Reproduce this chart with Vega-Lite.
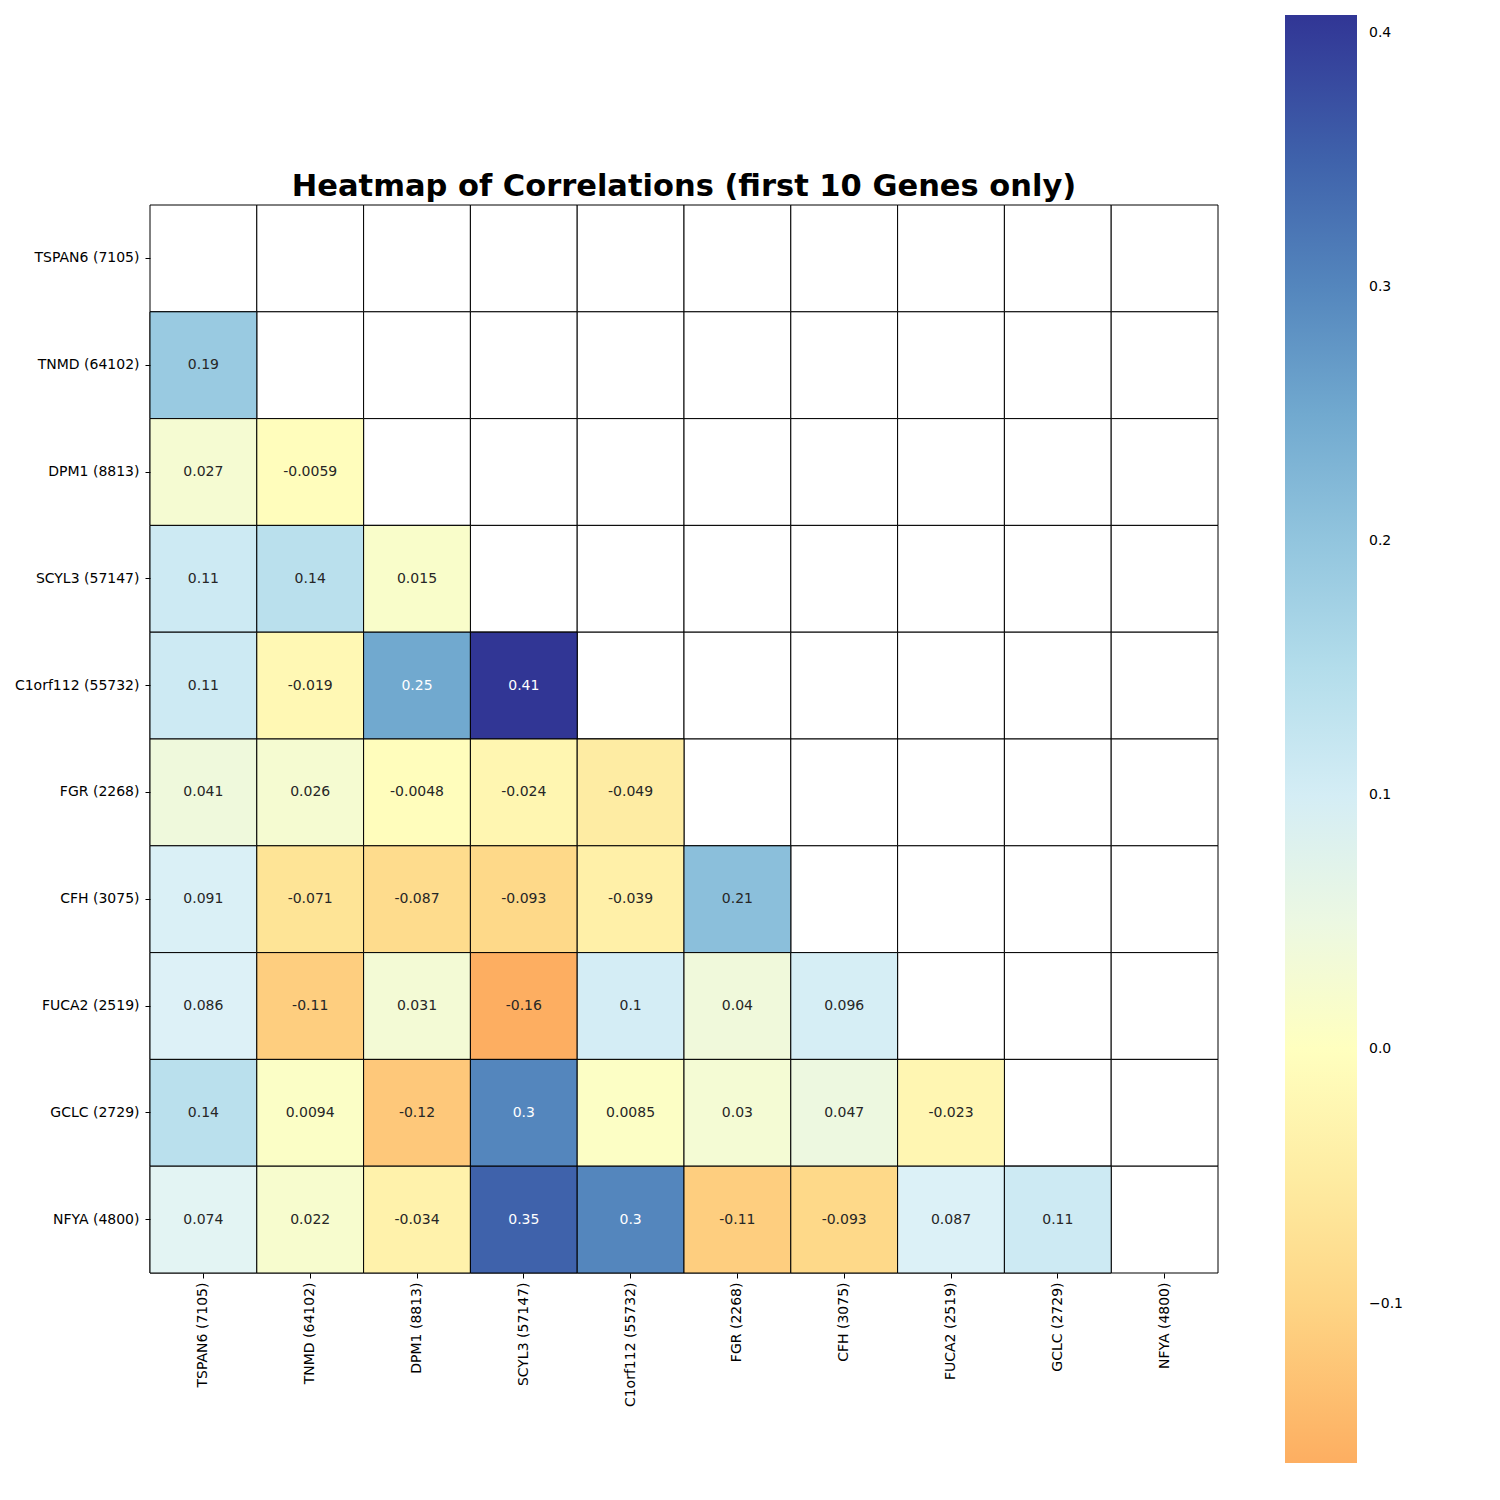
{
  "$schema": "https://vega.github.io/schema/vega-lite/v6.json",
  "autosize": {"type": "none"},
  "padding": {"left": 150, "top": 205, "right": 282, "bottom": 227},
  "width": 1068,
  "height": 1068,
  "background": "white",
  "title": {
    "text": "Heatmap of Correlations (first 10 Genes only)",
    "fontSize": 30.5,
    "fontWeight": "bold",
    "font": "DejaVu Sans",
    "color": "black",
    "anchor": "middle",
    "offset": 6,
    "dy": 193
  },
  "data": {
    "values": [
      {"row": "TSPAN6 (7105)", "col": "TSPAN6 (7105)", "r": null},
      {"row": "TSPAN6 (7105)", "col": "TNMD (64102)", "r": null},
      {"row": "TSPAN6 (7105)", "col": "DPM1 (8813)", "r": null},
      {"row": "TSPAN6 (7105)", "col": "SCYL3 (57147)", "r": null},
      {"row": "TSPAN6 (7105)", "col": "C1orf112 (55732)", "r": null},
      {"row": "TSPAN6 (7105)", "col": "FGR (2268)", "r": null},
      {"row": "TSPAN6 (7105)", "col": "CFH (3075)", "r": null},
      {"row": "TSPAN6 (7105)", "col": "FUCA2 (2519)", "r": null},
      {"row": "TSPAN6 (7105)", "col": "GCLC (2729)", "r": null},
      {"row": "TSPAN6 (7105)", "col": "NFYA (4800)", "r": null},
      {"row": "TNMD (64102)", "col": "TSPAN6 (7105)", "r": 0.19},
      {"row": "TNMD (64102)", "col": "TNMD (64102)", "r": null},
      {"row": "TNMD (64102)", "col": "DPM1 (8813)", "r": null},
      {"row": "TNMD (64102)", "col": "SCYL3 (57147)", "r": null},
      {"row": "TNMD (64102)", "col": "C1orf112 (55732)", "r": null},
      {"row": "TNMD (64102)", "col": "FGR (2268)", "r": null},
      {"row": "TNMD (64102)", "col": "CFH (3075)", "r": null},
      {"row": "TNMD (64102)", "col": "FUCA2 (2519)", "r": null},
      {"row": "TNMD (64102)", "col": "GCLC (2729)", "r": null},
      {"row": "TNMD (64102)", "col": "NFYA (4800)", "r": null},
      {"row": "DPM1 (8813)", "col": "TSPAN6 (7105)", "r": 0.027},
      {"row": "DPM1 (8813)", "col": "TNMD (64102)", "r": -0.0059},
      {"row": "DPM1 (8813)", "col": "DPM1 (8813)", "r": null},
      {"row": "DPM1 (8813)", "col": "SCYL3 (57147)", "r": null},
      {"row": "DPM1 (8813)", "col": "C1orf112 (55732)", "r": null},
      {"row": "DPM1 (8813)", "col": "FGR (2268)", "r": null},
      {"row": "DPM1 (8813)", "col": "CFH (3075)", "r": null},
      {"row": "DPM1 (8813)", "col": "FUCA2 (2519)", "r": null},
      {"row": "DPM1 (8813)", "col": "GCLC (2729)", "r": null},
      {"row": "DPM1 (8813)", "col": "NFYA (4800)", "r": null},
      {"row": "SCYL3 (57147)", "col": "TSPAN6 (7105)", "r": 0.11},
      {"row": "SCYL3 (57147)", "col": "TNMD (64102)", "r": 0.14},
      {"row": "SCYL3 (57147)", "col": "DPM1 (8813)", "r": 0.015},
      {"row": "SCYL3 (57147)", "col": "SCYL3 (57147)", "r": null},
      {"row": "SCYL3 (57147)", "col": "C1orf112 (55732)", "r": null},
      {"row": "SCYL3 (57147)", "col": "FGR (2268)", "r": null},
      {"row": "SCYL3 (57147)", "col": "CFH (3075)", "r": null},
      {"row": "SCYL3 (57147)", "col": "FUCA2 (2519)", "r": null},
      {"row": "SCYL3 (57147)", "col": "GCLC (2729)", "r": null},
      {"row": "SCYL3 (57147)", "col": "NFYA (4800)", "r": null},
      {"row": "C1orf112 (55732)", "col": "TSPAN6 (7105)", "r": 0.11},
      {"row": "C1orf112 (55732)", "col": "TNMD (64102)", "r": -0.019},
      {"row": "C1orf112 (55732)", "col": "DPM1 (8813)", "r": 0.25},
      {"row": "C1orf112 (55732)", "col": "SCYL3 (57147)", "r": 0.407},
      {"row": "C1orf112 (55732)", "col": "C1orf112 (55732)", "r": null},
      {"row": "C1orf112 (55732)", "col": "FGR (2268)", "r": null},
      {"row": "C1orf112 (55732)", "col": "CFH (3075)", "r": null},
      {"row": "C1orf112 (55732)", "col": "FUCA2 (2519)", "r": null},
      {"row": "C1orf112 (55732)", "col": "GCLC (2729)", "r": null},
      {"row": "C1orf112 (55732)", "col": "NFYA (4800)", "r": null},
      {"row": "FGR (2268)", "col": "TSPAN6 (7105)", "r": 0.041},
      {"row": "FGR (2268)", "col": "TNMD (64102)", "r": 0.026},
      {"row": "FGR (2268)", "col": "DPM1 (8813)", "r": -0.0048},
      {"row": "FGR (2268)", "col": "SCYL3 (57147)", "r": -0.024},
      {"row": "FGR (2268)", "col": "C1orf112 (55732)", "r": -0.049},
      {"row": "FGR (2268)", "col": "FGR (2268)", "r": null},
      {"row": "FGR (2268)", "col": "CFH (3075)", "r": null},
      {"row": "FGR (2268)", "col": "FUCA2 (2519)", "r": null},
      {"row": "FGR (2268)", "col": "GCLC (2729)", "r": null},
      {"row": "FGR (2268)", "col": "NFYA (4800)", "r": null},
      {"row": "CFH (3075)", "col": "TSPAN6 (7105)", "r": 0.091},
      {"row": "CFH (3075)", "col": "TNMD (64102)", "r": -0.071},
      {"row": "CFH (3075)", "col": "DPM1 (8813)", "r": -0.087},
      {"row": "CFH (3075)", "col": "SCYL3 (57147)", "r": -0.093},
      {"row": "CFH (3075)", "col": "C1orf112 (55732)", "r": -0.039},
      {"row": "CFH (3075)", "col": "FGR (2268)", "r": 0.21},
      {"row": "CFH (3075)", "col": "CFH (3075)", "r": null},
      {"row": "CFH (3075)", "col": "FUCA2 (2519)", "r": null},
      {"row": "CFH (3075)", "col": "GCLC (2729)", "r": null},
      {"row": "CFH (3075)", "col": "NFYA (4800)", "r": null},
      {"row": "FUCA2 (2519)", "col": "TSPAN6 (7105)", "r": 0.086},
      {"row": "FUCA2 (2519)", "col": "TNMD (64102)", "r": -0.11},
      {"row": "FUCA2 (2519)", "col": "DPM1 (8813)", "r": 0.031},
      {"row": "FUCA2 (2519)", "col": "SCYL3 (57147)", "r": -0.162},
      {"row": "FUCA2 (2519)", "col": "C1orf112 (55732)", "r": 0.1},
      {"row": "FUCA2 (2519)", "col": "FGR (2268)", "r": 0.04},
      {"row": "FUCA2 (2519)", "col": "CFH (3075)", "r": 0.096},
      {"row": "FUCA2 (2519)", "col": "FUCA2 (2519)", "r": null},
      {"row": "FUCA2 (2519)", "col": "GCLC (2729)", "r": null},
      {"row": "FUCA2 (2519)", "col": "NFYA (4800)", "r": null},
      {"row": "GCLC (2729)", "col": "TSPAN6 (7105)", "r": 0.14},
      {"row": "GCLC (2729)", "col": "TNMD (64102)", "r": 0.0094},
      {"row": "GCLC (2729)", "col": "DPM1 (8813)", "r": -0.12},
      {"row": "GCLC (2729)", "col": "SCYL3 (57147)", "r": 0.3},
      {"row": "GCLC (2729)", "col": "C1orf112 (55732)", "r": 0.0085},
      {"row": "GCLC (2729)", "col": "FGR (2268)", "r": 0.03},
      {"row": "GCLC (2729)", "col": "CFH (3075)", "r": 0.047},
      {"row": "GCLC (2729)", "col": "FUCA2 (2519)", "r": -0.023},
      {"row": "GCLC (2729)", "col": "GCLC (2729)", "r": null},
      {"row": "GCLC (2729)", "col": "NFYA (4800)", "r": null},
      {"row": "NFYA (4800)", "col": "TSPAN6 (7105)", "r": 0.074},
      {"row": "NFYA (4800)", "col": "TNMD (64102)", "r": 0.022},
      {"row": "NFYA (4800)", "col": "DPM1 (8813)", "r": -0.034},
      {"row": "NFYA (4800)", "col": "SCYL3 (57147)", "r": 0.35},
      {"row": "NFYA (4800)", "col": "C1orf112 (55732)", "r": 0.3},
      {"row": "NFYA (4800)", "col": "FGR (2268)", "r": -0.11},
      {"row": "NFYA (4800)", "col": "CFH (3075)", "r": -0.093},
      {"row": "NFYA (4800)", "col": "FUCA2 (2519)", "r": 0.087},
      {"row": "NFYA (4800)", "col": "GCLC (2729)", "r": 0.11},
      {"row": "NFYA (4800)", "col": "NFYA (4800)", "r": null}
    ]
  },
  "encoding": {
    "x": {
      "field": "col",
      "type": "nominal",
      "sort": ["TSPAN6 (7105)", "TNMD (64102)", "DPM1 (8813)", "SCYL3 (57147)", "C1orf112 (55732)", "FGR (2268)", "CFH (3075)", "FUCA2 (2519)", "GCLC (2729)", "NFYA (4800)"],
      "axis": {
        "title": null,
        "orient": "bottom",
        "domain": false,
        "labelAngle": 270,
        "labelFontSize": 14,
        "labelColor": "black",
        "tickColor": "black",
        "tickSize": 5,
        "labelPadding": 4
      }
    },
    "y": {
      "field": "row",
      "type": "nominal",
      "sort": ["TSPAN6 (7105)", "TNMD (64102)", "DPM1 (8813)", "SCYL3 (57147)", "C1orf112 (55732)", "FGR (2268)", "CFH (3075)", "FUCA2 (2519)", "GCLC (2729)", "NFYA (4800)"],
      "axis": {
        "title": null,
        "domain": false,
        "labelFontSize": 14,
        "labelColor": "black",
        "tickColor": "black",
        "tickSize": 5,
        "labelPadding": 6
      }
    }
  },
  "layer": [
    {
      "mark": {"type": "rect", "fill": "white", "stroke": "black", "strokeWidth": 1}
    },
    {
      "transform": [{"filter": "datum.r != null"}],
      "mark": {"type": "rect", "stroke": "black", "strokeWidth": 1},
      "encoding": {
        "fill": {
          "field": "r",
          "type": "quantitative",
          "scale": {
            "type": "linear",
            "domain": [-0.1627, -0.0813, 0, 0.0813, 0.1627, 0.244, 0.3254, 0.407],
            "range": ["#fdae61", "#fee090", "#ffffbf", "#e0f3f8", "#abd9e9", "#74add1", "#4575b4", "#313695"],
            "interpolate": "rgb"
          },
          "legend": {
            "title": null,
            "orient": "none",
            "legendX": 1135,
            "legendY": -190,
            "direction": "vertical",
            "gradientLength": 1448,
            "gradientThickness": 72,
            "gradientStrokeWidth": 0,
            "values": [-0.1, 0, 0.1, 0.2, 0.3, 0.4],
            "format": ".1f",
            "labelFontSize": 14,
            "labelColor": "black",
            "labelOffset": 12,
            "labelOverlap": false
          }
        }
      }
    },
    {
      "transform": [
        {"filter": "datum.r != null"},
        {"calculate": "replace(format(datum.r, '.2~g'), '\u2212', '-')", "as": "label"}
      ],
      "mark": {"type": "text", "fontSize": 14},
      "encoding": {
        "text": {"field": "label"},
        "color": {
          "condition": {"test": "datum.r > 0.23", "value": "white"},
          "value": "#262626"
        }
      }
    }
  ],
  "config": {
    "view": {"stroke": null},
    "font": "DejaVu Sans"
  }
}
